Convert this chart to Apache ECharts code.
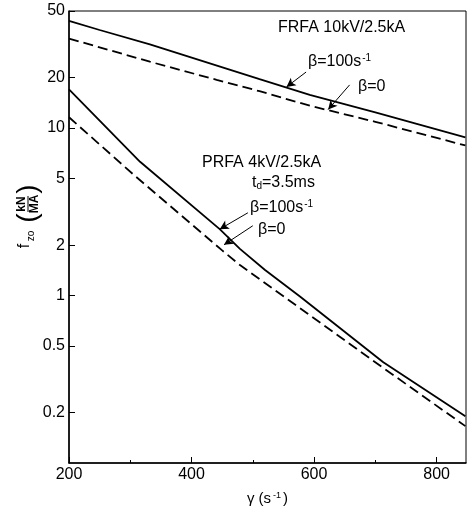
<!DOCTYPE html>
<html>
<head>
<meta charset="utf-8">
<script src="https://cdn.jsdelivr.net/npm/echarts@6/dist/echarts.min.js"></script>
<style>
  html, body { margin: 0; padding: 0; background: #fff; }
  #chart { width: 473px; height: 511px; }
</style>
</head>
<body>
<div id="chart"></div>
<script>
// axis ticks
const xTicks = [200, 400, 600, 800];
const xMinorTicks = [300, 500, 700];
const yTicks = [0.2, 0.5, 1, 2, 5, 10, 20, 50];

// [gamma (1/s), f_zo (kN/MA)]
const frfaBeta100 = [[200, 43.7], [250, 38.5], [332, 31.6], [511, 19.6], [593, 15.8], [700, 12.4], [847, 8.8]];
const frfaBeta0 = [[200, 34.2], [332, 24.9], [441, 19.4], [511, 16.6], [593, 13.6], [700, 10.9], [847, 7.87]];
const prfaBeta100 = [[200, 17.0], [316, 6.29], [446, 2.49], [479, 1.90], [520, 1.42], [577, 0.986], [713, 0.40], [847, 0.19]];
const prfaBeta0 = [[200, 11.6], [309, 5.13], [450, 1.86], [479, 1.52], [588, 0.787], [696, 0.409], [847, 0.166]];

// arrows: [tail, head]
const arrowFrfa100 = [[587, 21.6], [555, 17.6]];
const arrowFrfa0 = [[658, 18.1], [623, 12.9]];
const arrowPrfa100 = [[492, 3.12], [446, 2.49]];
const arrowPrfa0 = [[500, 2.61], [453, 2.01]];

const FONT = '"Liberation Sans", Arial, sans-serif';
const chart = echarts.init(document.getElementById('chart'));

function arrow(pts) {
  return {
    silent: true,
    animation: false,
    symbol: ['none', 'arrow'],
    symbolSize: [7, 9],
    label: { show: false },
    lineStyle: { color: '#000', width: 1, type: 'solid' },
    data: [[{ coord: pts[0] }, { coord: pts[1] }]]
  };
}

function curve(name, data, dashed, pts) {
  return {
    name: name,
    type: 'line',
    data: data,
    showSymbol: false,
    symbol: 'none',
    animation: false,
    lineStyle: { color: '#000', width: 1.8, type: dashed ? [10, 5] : 'solid' },
    markLine: arrow(pts)
  };
}

const txt = (x, y, text, rich) => ({
  type: 'text', x: x, y: y, silent: true,
  style: { text: text, font: '16px ' + FONT, fill: '#000', textVerticalAlign: 'middle', rich: rich }
});
const supRich = {
  a: { fontSize: 16, fontFamily: FONT, color: '#000' },
  s: { fontSize: 10, fontFamily: FONT, color: '#000', verticalAlign: 'top', padding: [0, 0, 7, 1] },
  d: { fontSize: 10, fontFamily: FONT, color: '#000', verticalAlign: 'bottom', padding: [7, 0, 0, 0] }
};

const option = {
  backgroundColor: '#fff',
  animation: false,
  grid: { left: 69, right: 7, top: 11, bottom: 43, show: true, borderColor: '#000', borderWidth: 1 },
  xAxis: [{
    type: 'value', min: 200, max: 848, interval: 200,
    name: '{a|γ (s}{s|-1}{a|)}',
    nameLocation: 'middle', nameGap: 28,
    nameTextStyle: { rich: { a: { fontSize: 15, fontFamily: FONT, color: '#000' }, s: { fontSize: 9, fontFamily: FONT, color: '#000', verticalAlign: 'top', padding: [0, 2, 6, 2] } } },
    axisLine: { show: true, lineStyle: { color: '#000', width: 1.5 } },
    axisTick: { show: true, inside: true, length: 6, customValues: xTicks, lineStyle: { color: '#000' } },
    axisLabel: { customValues: xTicks, color: '#000', fontSize: 16, fontFamily: FONT, margin: 4 },
    splitLine: { show: false }
  }, {
    type: 'value', min: 200, max: 848, position: 'bottom',
    axisLine: { show: false },
    axisTick: { show: true, inside: true, length: 3, customValues: xMinorTicks, lineStyle: { color: '#000' } },
    axisLabel: { show: false },
    splitLine: { show: false }
  }],
  yAxis: {
    type: 'log', logBase: 10, min: 0.1, max: 50,
    axisLine: { show: true, lineStyle: { color: '#000', width: 1.5 } },
    axisTick: { show: true, inside: true, length: 6, customValues: yTicks, lineStyle: { color: '#000' } },
    axisLabel: { customValues: yTicks, color: '#000', fontSize: 16, fontFamily: FONT, margin: 4 },
    splitLine: { show: false },
    minorTick: { show: false }
  },
  series: [
    curve('FRFA β=100', frfaBeta100, false, arrowFrfa100),
    curve('FRFA β=0', frfaBeta0, true, arrowFrfa0),
    curve('PRFA β=100', prfaBeta100, false, arrowPrfa100),
    curve('PRFA β=0', prfaBeta0, true, arrowPrfa0)
  ],
  graphic: [
    txt(278, 28, 'FRFA 10kV/2.5kA'),
    txt(308, 62, '{a|β=100s}{s|-1}', supRich),
    txt(358, 87, 'β=0'),
    txt(202, 163, 'PRFA 4kV/2.5kA'),
    txt(252, 183, '{a|t}{d|d}{a|=3.5ms}', supRich),
    txt(250, 208, '{a|β=100s}{s|-1}', supRich),
    txt(258, 230, 'β=0'),
    {
      // y axis title, rotated to read bottom-to-top
      type: 'group', x: 28, y: 220, rotation: Math.PI / 2, silent: true,
      children: [
        { type: 'text', x: -26, y: -3, style: { text: 'f', font: '16px ' + FONT, fill: '#000', textAlign: 'center', textVerticalAlign: 'middle' } },
        { type: 'text', x: -16, y: 3, style: { text: 'zo', font: '10px ' + FONT, fill: '#000', textAlign: 'center', textVerticalAlign: 'middle' } },
        { type: 'text', x: 2, y: 0, style: { text: '(', font: '28px ' + FONT, fill: '#000', textAlign: 'center', textVerticalAlign: 'middle' } },
        { type: 'text', x: 16, y: -6, style: { text: 'kN', font: 'bold 12px ' + FONT, fill: '#000', textAlign: 'center', textVerticalAlign: 'middle' } },
        { type: 'line', shape: { x1: 8, y1: 0, x2: 24, y2: 0 }, style: { stroke: '#000', lineWidth: 1 } },
        { type: 'text', x: 16, y: 7, style: { text: 'MA', font: 'bold 12px ' + FONT, fill: '#000', textAlign: 'center', textVerticalAlign: 'middle' } },
        { type: 'text', x: 31, y: 0, style: { text: ')', font: '28px ' + FONT, fill: '#000', textAlign: 'center', textVerticalAlign: 'middle' } }
      ]
    }
  ]
};

chart.setOption(option);
</script>
</body>
</html>
